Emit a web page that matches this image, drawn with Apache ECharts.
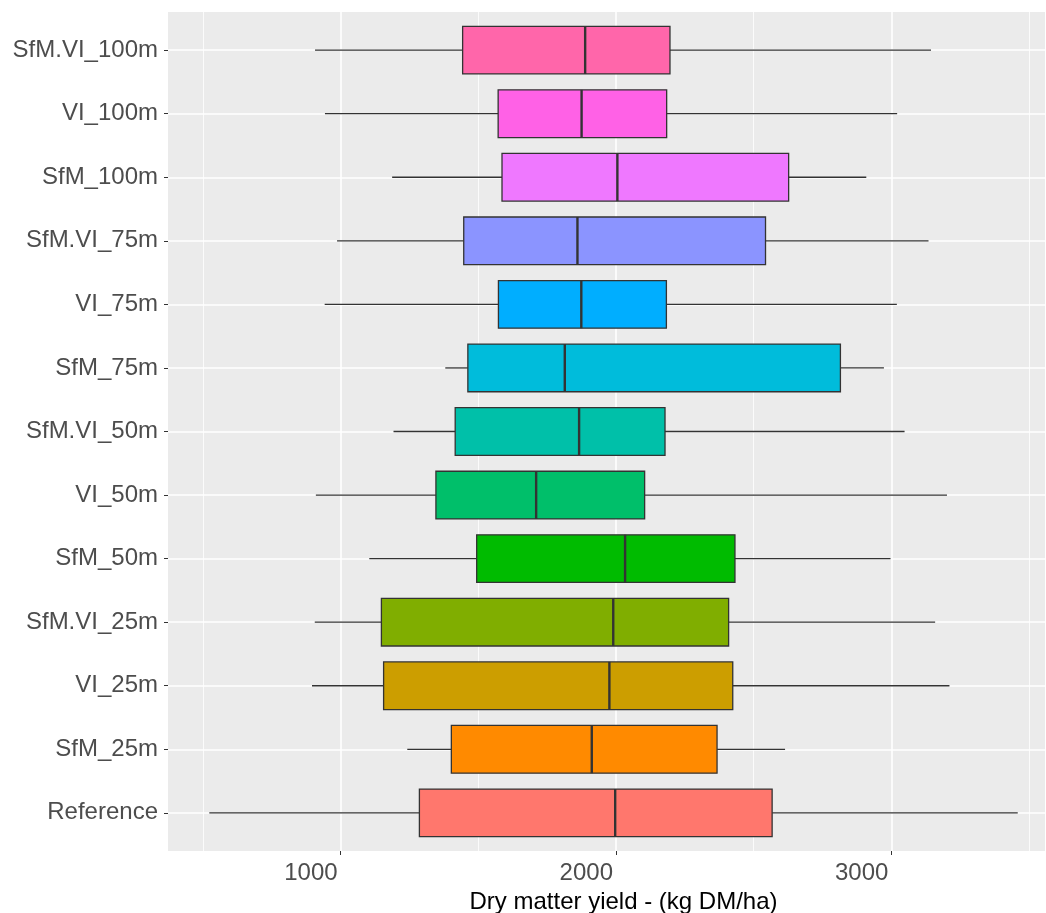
<!DOCTYPE html>
<html>
<head>
<meta charset="utf-8">
<script src="https://cdn.jsdelivr.net/npm/echarts@6/dist/echarts.min.js"></script>
<style>
html,body{margin:0;padding:0;background:#fff;}
#chart{width:1046px;height:913px;}
</style>
</head>
<body>
<div id="chart"></div>
<script>
// categories from bottom to top
const categories = ['Reference','SfM_25m','VI_25m','SfM.VI_25m','SfM_50m','VI_50m','SfM.VI_50m','SfM_75m','VI_75m','SfM.VI_75m','SfM_100m','VI_100m','SfM.VI_100m'];
const whiskerLow  = [523, 1242, 896, 906, 1104, 910, 1192, 1380, 942, 987, 1187, 943, 907];
const q1Values    = [1286, 1402, 1156, 1148, 1494, 1346, 1416, 1462, 1573, 1447, 1586, 1572, 1443];
const medians     = [1997, 1912, 1976, 1990, 2033, 1710, 1866, 1814, 1874, 1860, 2005, 1875, 1888];
const q3Values    = [2567, 2367, 2424, 2409, 2432, 2104, 2178, 2815, 2183, 2543, 2627, 2184, 2196];
const whiskerHigh = [3459, 2614, 3211, 3159, 2997, 3202, 3048, 2973, 3020, 3135, 2909, 3021, 3144];
const boxColors   = ['#FF776D','#FF8A00','#CC9E00','#80AE00','#00BB00','#00BF6A','#00C0A9','#00BCDB','#00AEFF','#8B94FF','#EF78FF','#FF61E6','#FF66AA'];
const xMajorTicks = [1000, 2000, 3000];
const xMinorTicks = [500, 1500, 2500, 3500];
const yPositions  = categories.map((c, i) => i + 1);

const data = categories.map((c, i) => [i + 1, whiskerLow[i], q1Values[i], medians[i], q3Values[i], whiskerHigh[i]]);

const FONT = '"Liberation Sans", Arial, sans-serif';

function renderItem(params, api) {
  const y = api.value(0);
  const pMin = api.coord([api.value(1), y]);
  const pQ1 = api.coord([api.value(2), y]);
  const pMed = api.coord([api.value(3), y]);
  const pQ3 = api.coord([api.value(4), y]);
  const pMax = api.coord([api.value(5), y]);
  const h = api.size([0, 1])[1] * 0.75;
  const cy = pMin[1];
  const color = boxColors[params.dataIndex];
  return {
    type: 'group',
    children: [
      {type: 'line', shape: {x1: pMin[0], y1: cy, x2: pQ1[0], y2: cy}, style: {stroke: '#333333', lineWidth: 1.3}},
      {type: 'line', shape: {x1: pQ3[0], y1: cy, x2: pMax[0], y2: cy}, style: {stroke: '#333333', lineWidth: 1.3}},
      {type: 'rect', shape: {x: pQ1[0], y: cy - h / 2, width: pQ3[0] - pQ1[0], height: h}, style: {fill: color, stroke: '#333333', lineWidth: 1.3}},
      {type: 'line', shape: {x1: pMed[0], y1: cy - h / 2, x2: pMed[0], y2: cy + h / 2}, style: {stroke: '#333333', lineWidth: 2.4}}
    ]
  };
}

const gridLines = []
  .concat(xMinorTicks.map(v => ({xAxis: v, lineStyle: {color: '#ffffff', width: 0.8, type: 'solid'}})))
  .concat(xMajorTicks.map(v => ({xAxis: v, lineStyle: {color: '#ffffff', width: 1.6, type: 'solid'}})))
  .concat(yPositions.map(v => ({yAxis: v, lineStyle: {color: '#ffffff', width: 1.6, type: 'solid'}})));

const chart = echarts.init(document.getElementById('chart'), null, {renderer: 'canvas'});
chart.setOption({
  animation: false,
  backgroundColor: '#ffffff',
  grid: {left: 168, right: 1, top: 12, bottom: 62, show: true, backgroundColor: '#EBEBEB', borderWidth: 0, containLabel: false, outerBoundsMode: 'none'},
  xAxis: {
    type: 'value', min: 373, max: 3558,
    axisLine: {show: false},
    axisTick: {show: true, customValues: xMajorTicks, length: 4, lineStyle: {color: '#333333', width: 1}},
    axisLabel: {customValues: xMajorTicks, align: 'right', padding: [0, 3, 0, 0], margin: 10, color: '#4D4D4D', fontSize: 24, fontFamily: FONT,
      formatter: v => String(v)},
    splitLine: {show: false},
    name: 'Dry matter yield - (kg DM/ha)', nameLocation: 'middle', nameGap: 38,
    nameTextStyle: {color: '#000000', fontSize: 24, fontFamily: FONT, padding: [0, 0, 0, 34]}
  },
  yAxis: {
    type: 'value', min: 0.4, max: 13.6,
    axisLine: {show: false},
    axisTick: {show: true, customValues: yPositions, length: 4, lineStyle: {color: '#333333', width: 1}},
    axisLabel: {customValues: yPositions, margin: 10, padding: [3, 0, 0, 0], color: '#4D4D4D', fontSize: 24, fontFamily: FONT,
      formatter: v => categories[Math.round(v) - 1] || ''},
    splitLine: {show: false}
  },
  series: [{
    type: 'custom',
    renderItem: renderItem,
    data: data,
    encode: {x: [1, 2, 3, 4, 5], y: 0},
    z: 2,
    silent: true,
    markLine: {silent: true, symbol: 'none', z: 1, label: {show: false}, animation: false, data: gridLines}
  }]
});
</script>
</body>
</html>
